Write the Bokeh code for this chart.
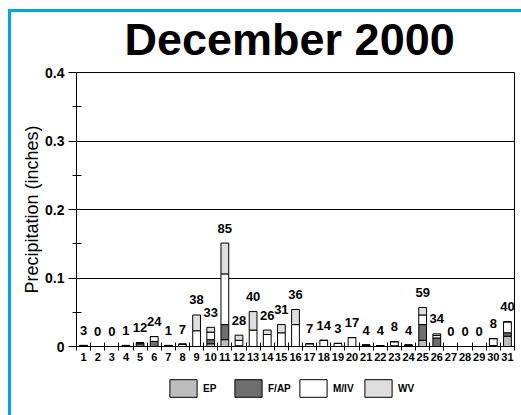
from bokeh.plotting import figure
from bokeh.layouts import column
from bokeh.models import FixedTicker, Legend, LegendItem, ColumnDataSource, Range1d
from bokeh.core.properties import value
from bokeh.embed import file_html
from bokeh.resources import INLINE

days = list(range(1, 32))
EP  = [0, 0, 0, 0, 0, 0, 0, 0, 0, 0.004, 0.010, 0.001, 0, 0, 0, 0, 0, 0, 0, 0,
       0, 0, 0, 0, 0.009, 0, 0, 0, 0, 0, 0.015]
FAP = [0.0015, 0, 0, 0.0015, 0.004, 0.0075, 0.0015, 0, 0, 0.006, 0.022, 0, 0, 0, 0, 0,
       0, 0, 0, 0, 0.002, 0.001, 0.001, 0.002, 0.023, 0.0125, 0, 0, 0, 0.0015, 0.005]
MIV = [0, 0, 0, 0, 0.0014, 0.007, 0, 0.0035, 0.023, 0.011, 0.074, 0.008, 0.024, 0.0175,
       0.020, 0.032, 0.004, 0.009, 0.0045, 0.013, 0, 0, 0.006, 0, 0.014, 0.0035, 0, 0, 0,
       0.010, 0.016]
WV  = [0, 0, 0, 0, 0, 0, 0, 0, 0.023, 0.007, 0.045, 0.0075, 0.027, 0.0065, 0.012, 0.022,
       0, 0, 0, 0, 0, 0, 0, 0, 0.011, 0.0025, 0, 0, 0, 0, 0]
counts = ["3", "0", "0", "1", "12", "24", "1", "7", "38", "33", "85", "28", "40", "26",
          "31", "36", "7", "14", "3", "17", "4", "4", "8", "4", "59", "34", "0", "0", "0",
          "8", "40"]
series_names = ["EP", "F/AP", "M/IV", "WV"]
series_colors = ["#bdbdbd", "#6e6e6e", "#ffffff", "#dedede"]
y_ticks = [0, 0.1, 0.2, 0.3, 0.4]

FONT = "Liberation Sans"
BLUE = "#00a6e4"

src = ColumnDataSource(dict(day=days, EP=EP, FAP=FAP, MIV=MIV, WV=WV))
totals = [a + b + c + d for a, b, c, d in zip(EP, FAP, MIV, WV)]
lab_src = ColumnDataSource(dict(day=days, total=totals, txt=counts))

H1 = 368
p = figure(width=521, height=H1, output_backend="svg", toolbar_location=None,
           x_range=(0.5, 31.5), y_range=(0, 0.4),
           min_border_left=76, min_border_right=7, min_border_top=72,
           min_border_bottom=H1 - 346, title="December 2000")
p.background_fill_color = "white"
p.border_fill_color = "white"
p.border_fill_alpha = 0
p.styles = {
    "background": (f"linear-gradient({BLUE},{BLUE}) 8px 9px / 3px 100% no-repeat, "
                   f"linear-gradient({BLUE},{BLUE}) 8px 9px / 100% 3px no-repeat, white")
}
p.outline_line_color = "black"
p.outline_line_width = 1

p.title.text_font = FONT
p.title.text_font_size = "45px"
p.title.text_font_style = "bold"
p.title.text_color = "black"
p.title.align = "left"
p.title.offset = 48
p.title.standoff = 16

p.vbar_stack(["EP", "FAP", "MIV", "WV"], x="day", width=0.55, source=src,
             fill_color=series_colors, line_color="black", line_width=1)

p.text(x="day", y="total", text="txt", source=lab_src, y_offset=-15,
       text_align="center", text_baseline="middle", text_font=value(FONT),
       text_font_size="13px", text_font_style="bold", text_color="black")

# axes
p.xaxis.ticker = FixedTicker(ticks=days, minor_ticks=[d + 0.5 for d in range(0, 32)])
p.xaxis.major_tick_in = 0
p.xaxis.major_tick_out = 0
p.xaxis.minor_tick_in = 4
p.xaxis.minor_tick_out = 4
p.xaxis.minor_tick_line_color = "black"
p.xaxis.axis_line_color = "black"
p.xaxis.major_label_standoff = 2
p.xaxis.major_label_text_font = FONT
p.xaxis.major_label_text_font_size = "11px"
p.xaxis.major_label_text_font_style = "bold"
p.xaxis.major_label_text_color = "black"

p.yaxis.ticker = FixedTicker(ticks=y_ticks, minor_ticks=[0.05, 0.15, 0.25, 0.35])
p.yaxis.major_label_overrides = {0: "0", 0.1: "0.1", 0.2: "0.2", 0.3: "0.3", 0.4: "0.4"}
p.yaxis.major_tick_in = 0
p.yaxis.major_tick_out = 8
p.yaxis.minor_tick_in = 5
p.yaxis.minor_tick_out = 4
p.yaxis.major_tick_line_color = "black"
p.yaxis.minor_tick_line_color = "black"
p.yaxis.axis_line_color = "black"
p.yaxis.major_label_standoff = 4
p.yaxis.major_label_text_font = FONT
p.yaxis.major_label_text_font_size = "14px"
p.yaxis.major_label_text_font_style = "bold"
p.yaxis.major_label_text_color = "black"
p.yaxis.axis_label = "Precipitation (inches)"
p.yaxis.axis_label_text_font = FONT
p.yaxis.axis_label_text_font_size = "18px"
p.yaxis.axis_label_text_font_style = "normal"
p.yaxis.axis_label_text_color = "black"
p.yaxis.axis_label_standoff = 0

p.xgrid.grid_line_color = None
p.ygrid.ticker = FixedTicker(ticks=y_ticks)
p.ygrid.grid_line_color = "black"
p.ygrid.grid_line_width = 1

# legend strip below the chart (proxy renderers carry no visible data)
H2 = 415 - H1
leg = figure(width=521, height=H2, output_backend="svg", toolbar_location=None,
             x_range=Range1d(0, 1), y_range=Range1d(0, 1),
             x_axis_type=None, y_axis_type=None,
             min_border_left=0, min_border_right=0, min_border_top=0, min_border_bottom=0)
leg.outline_line_color = None
leg.background_fill_alpha = 0
leg.border_fill_alpha = 0
leg.grid.visible = False
leg.styles = {
    "background": f"linear-gradient({BLUE},{BLUE}) 8px 0px / 3px 100% no-repeat, white"
}
nan = float("nan")
leg_src = ColumnDataSource(dict(x=[nan], top=[nan]))
leg_items = []
for name, color in zip(series_names, series_colors):
    r = leg.vbar(x="x", top="top", width=0.1, source=leg_src,
                 fill_color=color, line_color="black", line_width=1)
    leg_items.append(LegendItem(label=name, renderers=[r]))
legend = Legend(items=leg_items, location=(90, 16), orientation="horizontal",
                padding=0, spacing=2, glyph_width=34, glyph_height=22,
                label_standoff=3, label_width=26, label_height=22,
                label_text_font=FONT, label_text_font_size="10px",
                label_text_font_style="bold", label_text_color="black",
                border_line_color=None, background_fill_alpha=0, margin=0)
leg.add_layout(legend, "center")

layout = column(p, leg, spacing=0)
open("out.html", "w").write(file_html(layout, INLINE))
